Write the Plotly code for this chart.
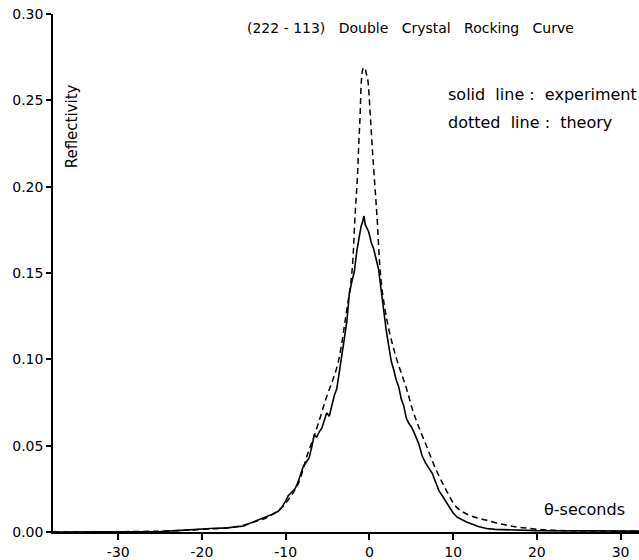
import plotly.graph_objects as go

# Experiment (solid line)
exp_x = [-37.8, -30, -25, -23, -21, -19, -17, -16, -15, -14.3, -13.5, -12.8, -12.3, -11.5, -10.9,
         -10.5, -10.0, -9.7, -9.3, -8.9, -8.6, -8.2, -7.9, -7.6, -7.2, -6.9, -6.6, -6.3, -6.0, -5.7,
         -5.4, -5.1, -4.8, -4.5, -4.2, -3.9, -3.6, -3.3, -3.0, -2.7, -2.4, -2.1, -1.8, -1.5, -1.2,
         -1.0, -0.8, -0.65, -0.5, -0.3, -0.1, 0.2, 0.5, 0.8, 1.1, 1.4, 1.7, 2.0, 2.3, 2.6, 2.9, 3.2,
         3.5, 3.8, 4.1, 4.4, 4.7, 5.0, 5.3, 5.6, 5.9, 6.3, 6.7, 7.1, 7.5, 7.9, 8.3, 8.7, 9.1, 9.5,
         10.0, 10.5, 11.0, 11.6, 12.3, 13.0, 14.0, 15, 20, 32.2]
exp_y = [0.0, 0.0, 0.0003, 0.0008, 0.0015, 0.002, 0.0024, 0.0028, 0.0035, 0.005, 0.0065, 0.0078,
         0.0088, 0.0105, 0.012, 0.014, 0.018, 0.021, 0.023, 0.025, 0.028, 0.034, 0.038, 0.040, 0.043,
         0.049, 0.056, 0.055, 0.058, 0.060, 0.064, 0.069, 0.067, 0.074, 0.079, 0.083, 0.092, 0.103,
         0.112, 0.122, 0.138, 0.145, 0.151, 0.163, 0.172, 0.177, 0.180, 0.183, 0.178, 0.176, 0.174,
         0.168, 0.164, 0.158, 0.152, 0.140, 0.128, 0.117, 0.108, 0.099, 0.094, 0.088, 0.084, 0.077,
         0.073, 0.066, 0.063, 0.061, 0.058, 0.054, 0.051, 0.044, 0.040, 0.037, 0.034, 0.029, 0.024,
         0.021, 0.018, 0.0145, 0.011, 0.0085, 0.0072, 0.0058, 0.0045, 0.0032, 0.002, 0.0015, 0.0008,
         0.0005]

# Theory (dashed line)
th_x = [-37.8, -25, -20, -16, -14, -12, -10.5, -9.5, -8.5, -7.4, -6.5, -5.2, -3.8, -2.8, -2.1,
        -1.7, -1.45, -1.28, -1.1, -0.95, -0.75, -0.55, -0.4, -0.2, 0.08, 0.32, 0.6, 0.9, 1.4, 2.2,
        3.2, 4.4, 5.2, 5.8, 6.8, 8.0, 9.2, 10.4, 11.9, 13.9, 16.3, 18.3, 22, 32.2]
th_y = [0.0, 0.0005, 0.0015, 0.003, 0.0055, 0.009, 0.014, 0.020, 0.028, 0.045, 0.057, 0.077, 0.097,
        0.1257, 0.150, 0.185, 0.204, 0.224, 0.243, 0.262, 0.2685, 0.269, 0.266, 0.262, 0.243, 0.224,
        0.204, 0.183, 0.145, 0.12, 0.101, 0.0835, 0.070, 0.062, 0.050, 0.0356, 0.024, 0.0144,
        0.0098, 0.0069, 0.004, 0.0025, 0.001, 0.0005]

x_ticks = [-30, -20, -10, 0, 10, 20, 30]
x_tick_text = ["-30", "-20", "-10", "0", "10", "20", "30"]
y_ticks = [0.0, 0.05, 0.10, 0.15, 0.20, 0.25, 0.30]
y_tick_text = ["0.00", "0.05", "0.10", "0.15", "0.20", "0.25", "0.30"]

FONT = "DejaVu Sans"

fig = go.Figure()
fig.add_trace(go.Scatter(x=exp_x, y=exp_y, mode="lines",
                         line=dict(color="black", width=1.6), showlegend=False))
fig.add_trace(go.Scatter(x=th_x, y=th_y, mode="lines", line_shape="spline",
                         line=dict(color="black", width=1.5, dash="6px,4px"), showlegend=False))

fig.update_layout(
    width=639, height=560,
    margin=dict(l=53, r=0, t=14, b=25),
    paper_bgcolor="white", plot_bgcolor="white",
    font=dict(family=FONT, size=14, color="black"),
    xaxis=dict(range=[-37.8, 32.2], tickvals=x_ticks, ticktext=x_tick_text,
               showgrid=False, zeroline=False, showline=True, linecolor="black", linewidth=1.5,
               ticks="outside", ticklen=6, tickwidth=1.5, tickcolor="black",
               tickfont=dict(size=14, family=FONT)),
    yaxis=dict(range=[0, 0.30], tickvals=y_ticks, ticktext=y_tick_text,
               showgrid=False, zeroline=False, showline=True, linecolor="black", linewidth=1.5,
               ticks="outside", ticklen=5, tickwidth=1.5, tickcolor="black",
               tickfont=dict(size=14, family=FONT)),
)

fig.add_annotation(text="(222 - 113)   Double   Crystal   Rocking   Curve",
                   xref="paper", yref="paper", x=(410 - 53) / 586, y=(535 - 28) / 521,
                   showarrow=False, font=dict(size=14, family=FONT), xanchor="center", yanchor="middle")
fig.add_annotation(text="solid  line :  experiment", xref="paper", yref="paper",
                   x=(446 - 53) / 586, y=(535 - 95) / 521, showarrow=False,
                   font=dict(size=16, family=FONT), xanchor="left", yanchor="middle")
fig.add_annotation(text="dotted  line :  theory", xref="paper", yref="paper",
                   x=(446 - 53) / 586, y=(535 - 123) / 521, showarrow=False,
                   font=dict(size=16, family=FONT), xanchor="left", yanchor="middle")
fig.add_annotation(text="Reflectivity", xref="paper", yref="paper",
                   x=(72 - 53) / 586, y=(535 - 127) / 521, showarrow=False, textangle=-90,
                   font=dict(size=15, family=FONT), xanchor="center", yanchor="middle")
fig.add_annotation(text="θ-seconds", xref="paper", yref="paper",
                   x=(584 - 53) / 586, y=(535 - 512) / 521, showarrow=False,
                   font=dict(size=16, family=FONT), xanchor="center", yanchor="middle")

fig.write_html("out.html")
